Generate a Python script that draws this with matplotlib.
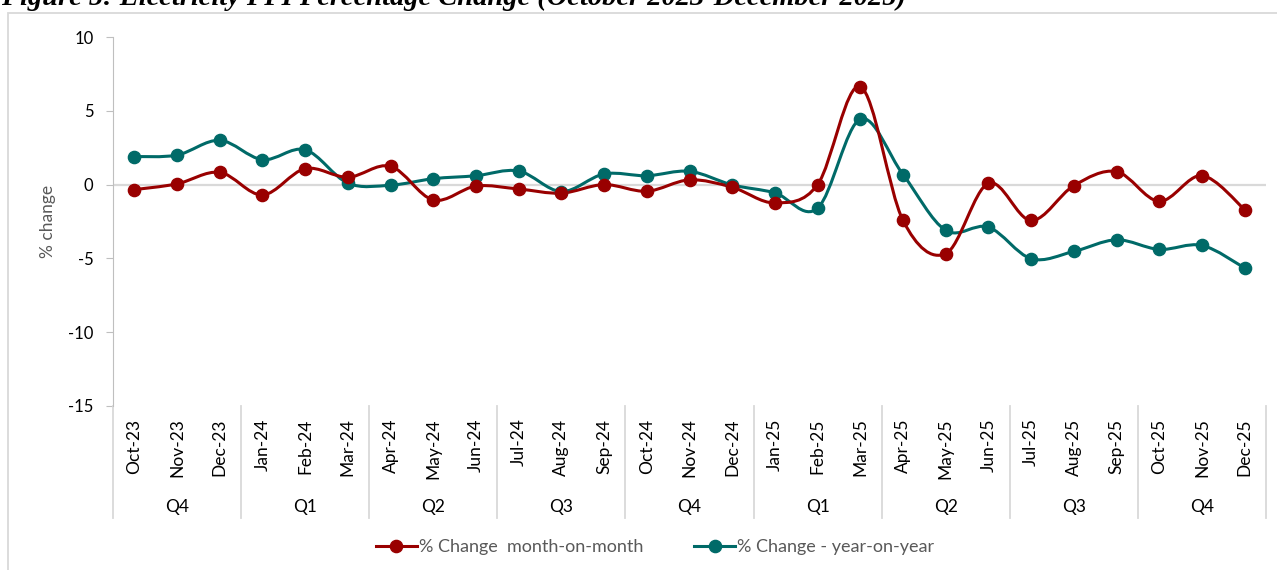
import matplotlib
matplotlib.use("Agg")
import matplotlib.pyplot as plt
import numpy as np
from matplotlib.path import Path
from matplotlib.patches import PathPatch, Rectangle
from matplotlib.lines import Line2D
import matplotlib.transforms as mtransforms

plt.rcParams['font.family'] = ['Lato', 'DejaVu Sans']

months = ['Oct-23', 'Nov-23', 'Dec-23', 'Jan-24', 'Feb-24', 'Mar-24', 'Apr-24', 'May-24', 'Jun-24',
          'Jul-24', 'Aug-24', 'Sep-24', 'Oct-24', 'Nov-24', 'Dec-24', 'Jan-25', 'Feb-25', 'Mar-25',
          'Apr-25', 'May-25', 'Jun-25', 'Jul-25', 'Aug-25', 'Sep-25', 'Oct-25', 'Nov-25', 'Dec-25']
quarters = ['Q4', 'Q1', 'Q2', 'Q3', 'Q4', 'Q1', 'Q2', 'Q3', 'Q4']

mom = [-0.34, 0.05, 0.83, -0.7, 1.08, 0.5, 1.24, -1.04, -0.1,
       -0.3, -0.58, 0.0, -0.45, 0.32, -0.18, -1.24, 0.0, 6.64,
       -2.43, -4.68, 0.09, -2.43, -0.07, 0.88, -1.13, 0.61, -1.69]
yoy = [1.9, 2.0, 3.0, 1.69, 2.36, 0.1, -0.04, 0.4, 0.6,
       0.92, -0.47, 0.72, 0.6, 0.9, -0.02, -0.56, -1.6, 4.44,
       0.68, -3.1, -2.88, -5.02, -4.53, -3.74, -4.39, -4.12, -5.65]

red = '#990000'
teal = '#006A68'
grey = '#D9D9D9'


def smooth_path(x, y):
    # Excel-like smoothed line: cubic Bezier through the points
    pts = np.column_stack([x, y]).astype(float)
    n = len(pts)
    verts = [pts[0]]
    codes = [Path.MOVETO]
    for i in range(n - 1):
        p0 = pts[i - 1] if i > 0 else pts[i]
        p1 = pts[i]
        p2 = pts[i + 1]
        p3 = pts[i + 2] if i + 2 < n else pts[i + 1]
        c1 = p1 + (p2 - p0) / 6.0
        c2 = p2 - (p3 - p1) / 6.0
        verts += [c1, c2, p2]
        codes += [Path.CURVE4] * 3
    return Path(verts, codes)


fig = plt.figure(figsize=(12.77, 5.70), dpi=100)
ax = fig.add_axes([113 / 1277, 1 - 406 / 570, (1266 - 113) / 1277, (406 - 37) / 570])

x = np.arange(len(months))
ax.axhline(0, color=grey, lw=1.6, zorder=1)

for vals, col in [(yoy, teal), (mom, red)]:
    ax.add_patch(PathPatch(smooth_path(x, vals), fill=False, edgecolor=col, lw=2.2, zorder=3))
    ax.plot(x, vals, 'o', color=col, ms=8.8, zorder=4)

ax.set_xlim(-0.5, len(months) - 0.5)
ax.set_ylim(-15, 10)
ax.set_yticks([10, 5, 0, -5, -10, -15])
ax.set_yticklabels(['10', '5', '0', '-5', '-10', '-15'], fontsize=12)
ax.tick_params(axis='y', length=5, color='#BFBFBF', pad=9)

ax.set_xticks(x)
ax.set_xticklabels(months, rotation=90, fontsize=12.5)
ax.tick_params(axis='x', length=0, pad=9)

for s in ['top', 'right', 'bottom']:
    ax.spines[s].set_visible(False)
ax.spines['left'].set_color('#BFBFBF')

ax.set_ylabel('% change', fontsize=12.5, color='#595959', labelpad=9)

# quarter separators and labels
trans = mtransforms.blended_transform_factory(ax.transData, ax.transAxes)
for k in range(len(quarters) + 1):
    ax.plot([3 * k - 0.5, 3 * k - 0.5], [0, -112 / 369], color=grey, lw=1.3,
            transform=trans, clip_on=False)
for k, q in enumerate(quarters):
    ax.text(3 * k + 1, -101 / 369, q, transform=trans, ha='center', va='center', fontsize=12.5)

handles = [Line2D([], [], color=red, lw=2.2, marker='o', ms=8.8),
           Line2D([], [], color=teal, lw=2.2, marker='o', ms=8.8)]
fig.legend(handles, ['% Change  month-on-month', '% Change - year-on-year'],
           loc='center', bbox_to_anchor=(655 / 1277, 1 - 547 / 570), ncol=2, frameon=False,
           fontsize=13, labelcolor='#595959', handlelength=2.3, handletextpad=0.1,
           columnspacing=2.8)

# chart border
fig.patches.append(Rectangle((8 / 1277, -0.01), 1.02, 1 - 13 / 570 + 0.01, transform=fig.transFigure,
                             fill=False, edgecolor=grey, lw=1.3))

fig.text(1 / 1277, 1 - 5 / 570, 'Figure 5: Electricity PPI Percentage Change (October 2023-December 2025)',
         family='Liberation Serif', weight='bold', style='italic', fontsize=20.5, va='baseline', ha='left')

fig.savefig('out.png', dpi=100)
